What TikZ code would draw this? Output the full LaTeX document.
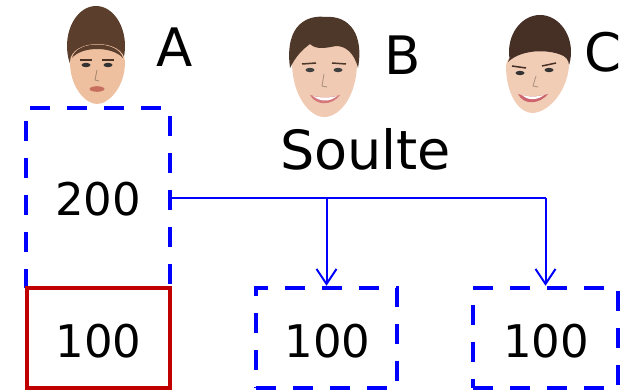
\documentclass[tikz,border=0pt]{standalone}
\usepackage{fontspec}
\setmainfont{DejaVu Sans}
\usetikzlibrary{arrows.meta}
\definecolor{boxblue}{RGB}{0,0,255}
\definecolor{boxred}{RGB}{192,0,0}
\definecolor{skinA}{RGB}{238,192,160}
\definecolor{skinB}{RGB}{240,202,178}
\definecolor{skinC}{RGB}{242,205,182}
\definecolor{hairA}{RGB}{92,62,45}
\definecolor{hairB}{RGB}{78,56,42}
\definecolor{hairC}{RGB}{70,48,38}
\definecolor{lipA}{RGB}{200,110,95}
\definecolor{lipC}{RGB}{205,100,110}
\tikzset{
  bbox/.style={draw=boxblue, line width=4.5pt, dash pattern=on 20pt off 17pt, inner sep=0pt},
  rbox/.style={draw=boxred, line width=4.5pt, inner sep=0pt},
  num/.style={font=\fontsize{45}{50}\selectfont, inner sep=0pt, anchor=base},
  big/.style={font=\fontsize{53}{60}\selectfont, inner sep=0pt, anchor=base},
  conn/.style={draw=boxblue, line width=2pt},
  connarrow/.style={conn, -{Straight Barb[length=15pt,width=20pt,line width=2pt]}}
}
\begin{document}
\begin{tikzpicture}[x=1pt,y=-1pt]
\useasboundingbox (0,0) rectangle (621,390);
% ---- face A ----
\fill[hairA] (96,46) ellipse [x radius=29, y radius=40];
\fill[skinA] (70,62) .. controls (70,88) and (86,104) .. (97,104) .. controls (108,104) and (125,88) .. (125,62) .. controls (125,38) and (70,38) .. cycle;
\fill[hairA] (72,58) .. controls (76,40) and (118,40) .. (123,58) .. controls (112,46) and (82,46) .. cycle;
\draw[hairA!80!black, line width=1.5pt] (80,60) -- (92,60) (102,60) -- (114,60);
\fill[black!80] (86,65) ellipse [x radius=4.5, y radius=2.2];
\fill[black!80] (108,65) ellipse [x radius=4.5, y radius=2.2];
\draw[skinA!70!black, line width=0.8pt] (97,70) -- (95,80) -- (99,81);
\fill[lipA] (97,89) ellipse [x radius=7.5, y radius=2.8];
% ---- face B ----
\fill[skinB] (292,62) .. controls (292,96) and (310,117) .. (324,117) .. controls (340,117) and (357,96) .. (357,62) .. controls (357,30) and (292,30) .. cycle;
\fill[hairB] (290,68) .. controls (284,22) and (310,15) .. (325,17) .. controls (350,15) and (364,35) .. (358,68) .. controls (354,52) and (345,46) .. (336,46) .. controls (326,48) and (316,50) .. (310,44) .. controls (302,50) and (296,56) .. (290,68) -- cycle;
\draw[hairB, line width=1.5pt] (302,64) -- (316,63) (332,63) -- (346,64);
\fill[black!75] (310,70) ellipse [x radius=4.5, y radius=2.2];
\fill[black!75] (338,70) ellipse [x radius=4.5, y radius=2.2];
\draw[skinB!70!black, line width=0.8pt] (324,74) -- (322,86) -- (327,87);
\fill[lipC!80!skinB] (310,95) .. controls (316,106) and (332,106) .. (340,95) .. controls (330,98) and (320,98) .. cycle;
\fill[white] (313,96) .. controls (320,102) and (330,102) .. (337,96) .. controls (330,98) and (320,98) .. cycle;
% ---- face C ----
\fill[hairC] (540,52) ellipse [x radius=31, y radius=37];
\fill[skinC] (506,66) .. controls (506,96) and (520,113) .. (532,113) .. controls (548,113) and (567,92) .. (569,66) .. controls (570,44) and (506,44) .. cycle;
\fill[hairC] (508,62) .. controls (512,44) and (560,38) .. (570,60) .. controls (556,48) and (522,48) .. cycle;
\draw[hairC, line width=1.5pt] (512,66) -- (526,68) (542,66) -- (556,63);
\fill[black!80] (520,73) ellipse [x radius=4.5, y radius=2.2];
\fill[black!80] (549,70) ellipse [x radius=4.5, y radius=2.2];
\draw[skinC!70!black, line width=0.8pt] (536,76) -- (533,86) -- (538,87);
\fill[lipC] (518,94) .. controls (524,106) and (540,104) .. (548,94) .. controls (538,97) and (526,97) .. cycle;
\fill[white] (522,95) .. controls (528,101) and (538,100) .. (544,95) .. controls (536,97) and (528,97) .. cycle;
% ---- letters ----
\node[big] (lA) at (174.5,67) {A};
\node[big] (lB) at (402.5,75) {B};
\node[big] (lC) at (603,72) {C};
\node[big, font=\fontsize{54}{60}\selectfont] (soulte) at (365.5,170) {Soulte};
% ---- boxes ----
\node[bbox, minimum width=144pt, minimum height=180pt] (bA) at (98,198) {};
\node[rbox, minimum width=143pt, minimum height=100pt] (rA) at (98.5,338) {};
\node[bbox, minimum width=141pt, minimum height=100pt] (bB) at (326.5,338) {};
\node[bbox, minimum width=145pt, minimum height=100pt] (bC) at (545.5,338) {};
% ---- numbers ----
\node[num] (t200) at (98,216) {200};
\node[num] (tA) at (98.5,357) {100};
\node[num] (tB) at (327.5,357) {100};
\node[num] (tC) at (546,357) {100};
% ---- connectors ----
\draw[conn] (bA.east) -- (bC.north |- bA.east);
\draw[connarrow] (bC.north |- bA.east) -- (bC.north);
\draw[connarrow] (bB.north |- bA.east) -- (bB.north);
\end{tikzpicture}
\end{document}
